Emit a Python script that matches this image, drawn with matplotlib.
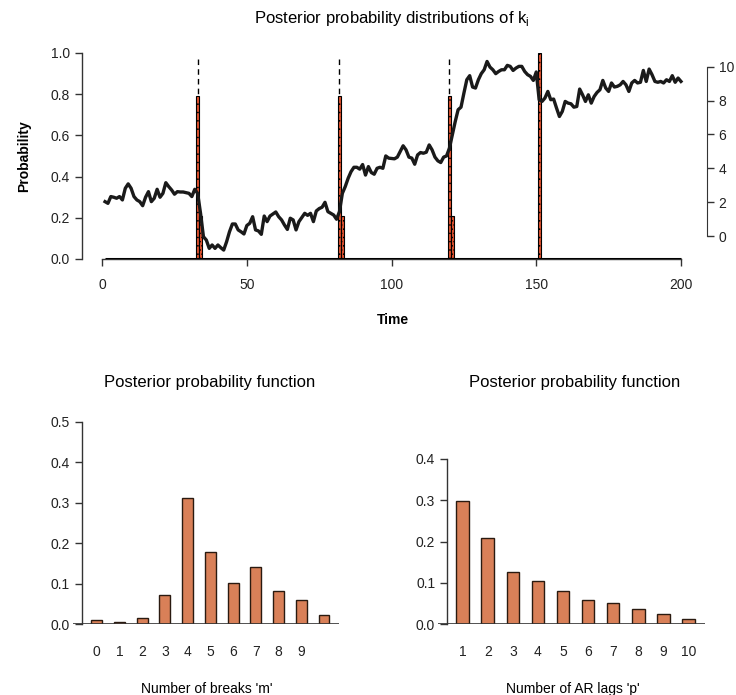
"""==============================================================
# libraries
=============================================================="""
import matplotlib
matplotlib.use("Agg")
import matplotlib.pyplot as plt

plt.rcParams["font.family"] = ["Liberation Sans", "DejaVu Sans"]
plt.rcParams["hatch.linewidth"] = 0.6

"""==============================================================
# data
=============================================================="""
# time series (right axis units), t = 1..200
time = list(range(1, 201))
series = [
    2.03, 1.93, 2.33, 2.29, 2.23, 2.33, 2.13, 2.82, 3.08, 2.82,
    2.33, 2.13, 2.03, 1.79, 2.29, 2.62, 2.03, 2.23, 2.76, 2.29,
    2.52, 3.15, 2.92, 2.72, 2.47, 2.62, 2.60, 2.60, 2.56, 2.52,
    2.33, 2.76, 2.52, 1.34, -0.04, -0.24, -0.73, -0.53, -0.73, -0.53,
    -0.69, -0.83, -0.34, 0.25, 0.71, 0.71, 0.36, 0.25, 0.12, 0.62,
    0.75, 1.14, 0.36, 0.30, 0.10, 1.18, 0.85, 1.18, 1.30, 1.42,
    1.14, 0.95, 0.65, 0.39, 1.05, 0.95, 0.36, 0.85, 1.10, 1.34,
    1.22, 1.34, 0.85, 1.48, 1.62, 1.70, 1.99, 1.44, 1.34, 1.24,
    0.99, 1.44, 2.52, 2.92, 3.41, 3.80, 4.06, 4.06, 3.95, 4.22,
    3.60, 4.10, 3.75, 3.65, 4.00, 4.06, 4.00, 4.73, 4.60, 4.58,
    4.56, 4.66, 4.99, 5.33, 5.09, 4.66, 4.60, 4.24, 4.79, 4.93,
    4.89, 4.95, 5.38, 5.09, 4.66, 4.44, 4.34, 4.66, 4.73, 5.19,
    5.98, 6.76, 7.46, 7.61, 8.44, 9.23, 9.47, 8.80, 8.74, 9.23,
    9.59, 9.82, 10.31, 9.98, 9.82, 9.59, 9.72, 9.82, 9.82, 10.08,
    10.02, 9.78, 9.92, 10.02, 10.02, 9.72, 9.53, 9.43, 9.19, 9.69,
    8.05, 7.95, 8.15, 8.54, 8.05, 8.09, 7.56, 7.06, 7.36, 7.95,
    7.85, 7.81, 7.61, 7.65, 8.68, 8.34, 7.95, 8.34, 7.85, 8.24,
    8.48, 8.64, 9.19, 8.74, 8.54, 9.04, 8.80, 8.84, 8.93, 9.13,
    8.93, 8.54, 9.04, 9.19, 9.04, 9.08, 9.78, 9.13, 9.86, 9.53,
    9.13, 9.08, 9.13, 9.04, 9.23, 9.13, 9.47, 9.08, 9.33, 9.13,
]

# posterior probability of break location k_i
break_times = [33, 34, 82, 83, 120, 121, 151]
break_probs = [0.79, 0.21, 0.79, 0.21, 0.79, 0.21, 1.0]
mode_times = [33, 82, 120]

# posterior of number of breaks m
m_values = [0, 1, 2, 3, 4, 5, 6, 7, 8, 9, 10]
m_probs = [0.010, 0.006, 0.014, 0.072, 0.311, 0.178, 0.102, 0.141, 0.082, 0.060, 0.023]
m_labels = ["0", "1", "2", "3", "4", "5", "6", "7", "8", "9", ""]

# posterior of AR lags p
p_values = [1, 2, 3, 4, 5, 6, 7, 8, 9, 10]
p_probs = [0.298, 0.209, 0.127, 0.105, 0.079, 0.057, 0.051, 0.036, 0.025, 0.013]

"""==============================================================
# style
=============================================================="""
W, H = 736, 695
AX_COLOR = "#333333"
BAR_COLOR = "#d98058"
BREAK_COLOR = "#e3532f"


def px_axes(left, top, right, bottom):
    # pixel box -> figure fraction
    return [left / W, 1 - bottom / H, (right - left) / W, (bottom - top) / H]


def r_style(ax):
    for side in ["top", "right"]:
        ax.spines[side].set_visible(False)
    for side in ["left", "bottom"]:
        ax.spines[side].set_color(AX_COLOR)
        ax.spines[side].set_linewidth(1.0)
    ax.tick_params(colors=AX_COLOR, labelcolor="#222222", labelsize=10,
                   length=5, width=1.0)


fig = plt.figure(figsize=(W / 100, H / 100), dpi=100)

"""==============================================================
# top: posterior of k_i with series
=============================================================="""
ax = fig.add_axes(px_axes(82, 53, 704, 259))
r_style(ax)
ax.set_xlim(-6.96, 207.96)
ax.set_ylim(0, 1)

ax.vlines(mode_times, 0, 0.98, colors="black", linestyles=(0, (4, 3)),
          linewidth=1.0, zorder=1)
ax.bar(break_times, break_probs, width=1.0, color=BREAK_COLOR,
       edgecolor="black", linewidth=0.8, hatch="....", zorder=2)
ax.hlines(0, 1, 200, colors="black", linewidth=2.2, zorder=3)

ax.spines["left"].set_bounds(0, 1)
ax.spines["bottom"].set_bounds(0, 200)
ax.set_xticks([0, 50, 100, 150, 200])
ax.set_yticks([0.0, 0.2, 0.4, 0.6, 0.8, 1.0])
ax.set_yticklabels(["0.0", "0.2", "0.4", "0.6", "0.8", "1.0"])
ax.tick_params(axis="x", pad=9)
ax.set_xlabel("Time", fontsize=10, fontweight="bold", labelpad=15)
ax.set_ylabel("Probability", fontsize=10, fontweight="bold", labelpad=14)

ax2 = ax.twinx()
ax2.set_ylim(-1.358, 10.81)
ax2.plot(time, series, color="#1a1a1a", linewidth=2.4, zorder=4)
for side in ["top", "left", "bottom"]:
    ax2.spines[side].set_visible(False)
ax2.spines["right"].set_color(AX_COLOR)
ax2.spines["right"].set_bounds(0, 10)
ax2.spines["right"].set_position(("outward", 2))
ax2.set_yticks([0, 2, 4, 6, 8, 10])
ax2.tick_params(colors=AX_COLOR, labelcolor="#222222", labelsize=10,
                length=5, width=1.0)

fig.text(392 / W, 1 - 18 / H,
         r"Posterior probability distributions of k$_\mathregular{i}$",
         ha="center", va="center", fontsize=12)

"""==============================================================
# bottom left: number of breaks
=============================================================="""
bl = fig.add_axes(px_axes(73, 422, 339, 624))
r_style(bl)
bl.bar(m_values, m_probs, width=0.48, color=BAR_COLOR, edgecolor="#2a1a10",
       linewidth=1.0, zorder=2)
bl.axhline(0, color=AX_COLOR, linewidth=1.2, zorder=3)
bl.set_xlim(-1.04, 10.66)
bl.set_ylim(0, 0.5)
bl.spines["bottom"].set_visible(False)
bl.spines["left"].set_position(("axes", 0.0327))
bl.spines["left"].set_bounds(0, 0.5)
bl.set_yticks([0.0, 0.1, 0.2, 0.3, 0.4, 0.5])
bl.set_yticklabels(["0.0", "0.1", "0.2", "0.3", "0.4", "0.5"])
bl.set_xticks(m_values)
bl.set_xticklabels(m_labels)
bl.tick_params(axis="x", length=0, pad=15)
bl.set_xlabel("Number of breaks 'm'", fontsize=10)
bl.xaxis.set_label_coords(0.504, -0.285)
fig.text(210 / W, 1 - 383 / H, "Posterior probability function",
         ha="center", va="center", fontsize=12)

"""==============================================================
# bottom right: number of AR lags
=============================================================="""
br = fig.add_axes(px_axes(438, 459, 705, 624))
r_style(br)
br.bar(p_values, p_probs, width=0.5, color=BAR_COLOR, edgecolor="#2a1a10",
       linewidth=1.0, zorder=2)
br.axhline(0, color=AX_COLOR, linewidth=1.2, zorder=3)
br.set_xlim(0.016, 10.66)
br.set_ylim(0, 0.4)
br.spines["bottom"].set_visible(False)
br.spines["left"].set_position(("axes", 0.0337))
br.spines["left"].set_bounds(0, 0.4)
br.set_yticks([0.0, 0.1, 0.2, 0.3, 0.4])
br.set_yticklabels(["0.0", "0.1", "0.2", "0.3", "0.4"])
br.set_xticks(p_values)
br.tick_params(axis="x", length=0, pad=15)
br.set_xlabel("Number of AR lags 'p'", fontsize=10)
br.xaxis.set_label_coords(0.505, -0.35)
fig.text(575 / W, 1 - 383 / H, "Posterior probability function",
         ha="center", va="center", fontsize=12)

fig.savefig("out.png", dpi=100)
